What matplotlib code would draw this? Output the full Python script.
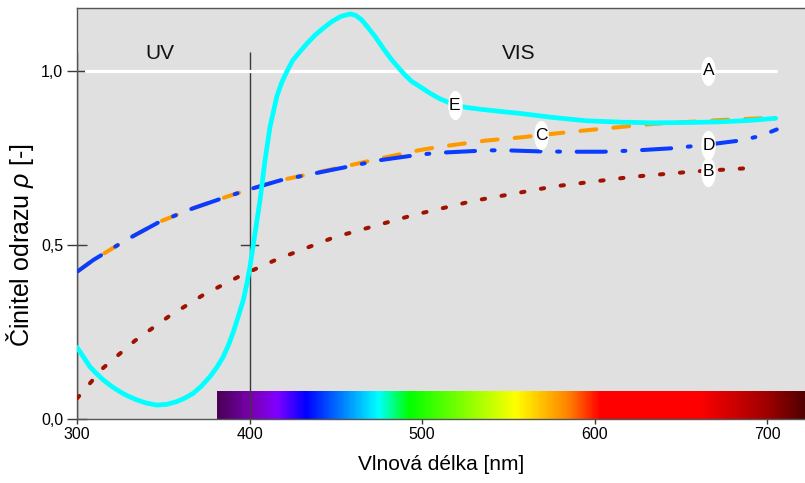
import numpy as np
import matplotlib
matplotlib.use("Agg")
import matplotlib.pyplot as plt
from matplotlib.colors import LinearSegmentedColormap
from matplotlib.path import Path
from matplotlib.transforms import Affine2D

plt.rcParams['font.family'] = ['Liberation Sans', 'DejaVu Sans']
plt.rcParams['mathtext.fontset'] = 'custom'
plt.rcParams['mathtext.it'] = 'Liberation Sans:italic'
plt.rcParams['mathtext.rm'] = 'Liberation Sans'
plt.rcParams['lines.scale_dashes'] = False

# ---------------- data ----------------
wl_A = [305, 705]
rho_A = [1.0, 1.0]

wl_B = [300, 315, 333.6, 353, 373, 394.5, 416, 449, 495, 530, 565, 576, 622, 657, 693]
rho_B = [0.059, 0.146, 0.225, 0.294, 0.356, 0.411, 0.459, 0.522, 0.586, 0.627, 0.658,
         0.668, 0.696, 0.711, 0.722]

wl_C = [300, 309.5, 329, 348, 367, 387, 400, 418, 452, 476, 499, 510, 537, 559, 569,
        596, 634, 673, 705]
rho_C = [0.423, 0.457, 0.516, 0.567, 0.605, 0.639, 0.660, 0.686, 0.722, 0.749, 0.773,
         0.782, 0.800, 0.810, 0.816, 0.830, 0.848, 0.859, 0.866]

wl_D = [300, 309.5, 329, 348, 367, 387, 400, 418, 452, 476, 499, 510, 538, 549, 568,
        586, 605, 625, 645, 665, 684, 696, 705.6]
rho_D = [0.423, 0.457, 0.516, 0.567, 0.605, 0.639, 0.660, 0.686, 0.720, 0.744, 0.760,
         0.765, 0.772, 0.772, 0.769, 0.768, 0.768, 0.772, 0.778, 0.788, 0.800, 0.813, 0.832]

wl_E = [300, 303.5, 307.5, 311, 315.3, 320, 325, 329.5, 334.6, 340, 346.2, 352, 357.8,
        362.5, 367.4, 372, 377.1, 381, 384.8, 388, 390.6, 393.5, 396.4, 398.5, 400.3,
        403.2, 406.1, 409, 411.9, 415.8, 418.5, 421.6, 425, 429.3, 433.5, 438, 443, 447.7,
        453, 458.3, 461.5, 465, 468.5, 472.8, 477.5, 482.4, 487, 490, 494, 498.8, 504,
        510, 519, 526, 534, 545, 557, 575, 595, 615, 634, 655, 673, 690, 705]
rho_E = [0.206, 0.180, 0.150, 0.132, 0.112, 0.094, 0.078, 0.066, 0.055, 0.046, 0.040,
         0.042, 0.050, 0.060, 0.074, 0.094, 0.122, 0.148, 0.179, 0.215, 0.250, 0.295,
         0.342, 0.390, 0.438, 0.534, 0.629, 0.744, 0.840, 0.926, 0.965, 0.998, 1.030,
         1.056, 1.080, 1.103, 1.124, 1.142, 1.157, 1.164, 1.160, 1.147, 1.126, 1.099,
         1.065, 1.032, 1.006, 0.989, 0.970, 0.955, 0.938, 0.921, 0.902, 0.895, 0.890,
         0.884, 0.878, 0.867, 0.857, 0.853, 0.851, 0.852, 0.854, 0.858, 0.864]

labels = ['A', 'B', 'C', 'D', 'E']
label_wl = [666, 666, 569, 666, 519]
label_rho = [1.0, 0.711, 0.815, 0.786, 0.902]

xticks = [300, 400, 500, 600, 700]
yticks = [0.0, 0.5, 1.0]
ytick_labels = ['0,0', '0,5', '1,0']

region_names = ['UV', 'VIS']
region_wl = [348, 556]

spec_wl = [381, 400, 415, 432, 474, 492, 554, 585, 603, 660, 700, 722]
spec_col = ['#4a0058', '#7a00b0', '#8000ff', '#0000ff', '#00ffff', '#00ff00',
            '#ffff00', '#ff8000', '#ff0000', '#ff0000', '#a00000', '#500000']

# ---------------- figure ----------------
fig = plt.figure(figsize=(8.05, 4.83), dpi=100)
ax = fig.add_axes([77 / 805, 64 / 483, 1 - 77 / 805, (419 - 8) / 483])
ax.set_facecolor('#e0e0e0')

# spectrum bar
lo, hi = spec_wl[0], spec_wl[-1]
cmap = LinearSegmentedColormap.from_list(
    'spec', [((w - lo) / (hi - lo), c) for w, c in zip(spec_wl, spec_col)])
grad = np.linspace(0, 1, 600).reshape(1, -1)
ax.imshow(grad, cmap=cmap, aspect='auto', extent=(lo, hi, 0, 0.078),
          zorder=1, interpolation='bilinear')

# guide lines
ax.vlines([300, 400], 0, 1.055, colors='#3a3a3a', lw=1.0, zorder=1.5)
ax.plot([395, 405], [0.5, 0.5], color='#3a3a3a', lw=1.0, zorder=1.5)

lw = 2.9
ax.plot(wl_A, rho_A, color='white', lw=2.3, solid_capstyle='round', zorder=2)
lB, = ax.plot(wl_B, rho_B, color='#a01200', lw=lw, dash_capstyle='round', zorder=3)
lB.set_dashes((2.4, 12.0))
lC, = ax.plot(wl_C, rho_C, color='#ff9900', lw=lw, dash_capstyle='round', zorder=3)
lC.set_dashes((11.5, 12.3))
lD, = ax.plot(wl_D, rho_D, color='#0a3cff', lw=lw, dash_capstyle='round', zorder=4)
lD.set_dashes((21, 12, 2.1, 12))
ax.plot(wl_E, rho_E, color='#00ffff', lw=3.4, solid_capstyle='round',
        solid_joinstyle='round', zorder=5)

# tall white oval markers behind letters
oval = Affine2D().scale(0.5, 1.0).transform_path(Path.unit_circle())
ax.plot(label_wl, label_rho, ls='none', marker=oval, markersize=21,
        markerfacecolor='white', markeredgecolor='none', zorder=6)
for t, x, y in zip(labels, label_wl, label_rho):
    ax.text(x, y, t, ha='center', va='center', fontsize=12.5, color='black', zorder=7)

for t, x in zip(region_names, region_wl):
    ax.text(x, 1.05, t, ha='center', va='center', fontsize=15, color='#111111')

ax.set_xlim(300, 722)
ax.set_ylim(0, 1.181)
ax.set_xticks(xticks)
ax.set_yticks(yticks)
ax.set_yticklabels(ytick_labels)
ax.tick_params(axis='x', direction='out', length=3.6, width=1, color='#3a3a3a',
               labelsize=11.5, pad=2.5)
ax.tick_params(axis='y', direction='inout', length=14, width=1, color='#3a3a3a',
               labelsize=11.5, pad=3)

for s in ['left', 'bottom', 'top']:
    ax.spines[s].set_color('#555555')
    ax.spines[s].set_linewidth(1.0)
ax.spines['right'].set_visible(False)

ax.set_xlabel('Vlnová délka [nm]', fontsize=15, labelpad=9)
ax.set_ylabel(r'Činitel odrazu $\rho$ [-]', fontsize=18)
ax.yaxis.set_label_coords(-0.057, 0.423)

fig.savefig('out.png', dpi=100)
